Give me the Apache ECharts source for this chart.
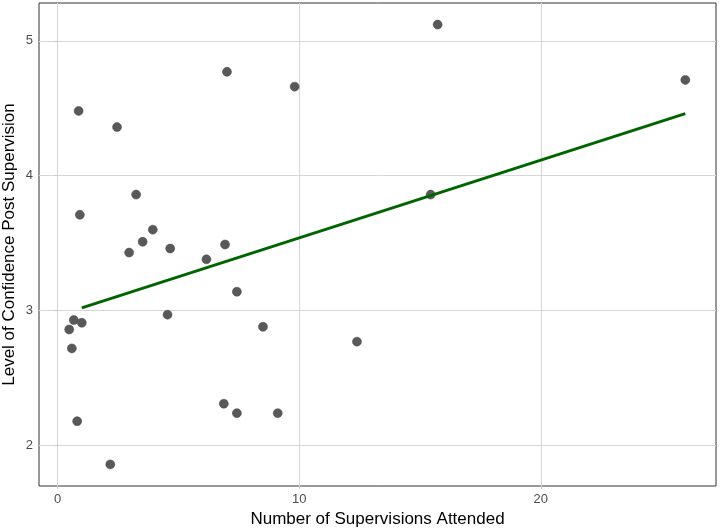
<!DOCTYPE html>
<html>
<head>
<meta charset="utf-8">
<script src="https://cdn.jsdelivr.net/npm/echarts@6/dist/echarts.min.js"></script>
<style>
  html, body { margin: 0; padding: 0; background: #fff; }
  #chart { width: 720px; height: 530px; }
</style>
</head>
<body>
<div id="chart"></div>
<script>
// supervisions attended (x) vs confidence after supervision (y)
const supervisions = [
  0.87, 7.01, 9.81, 2.46, 3.25, 0.92, 3.94, 3.52, 2.96, 4.66, 6.93, 6.16,
  7.42, 4.55, 0.67, 1.00, 0.48, 8.50, 0.59, 12.39, 6.88, 7.42, 9.11, 0.81,
  2.18, 15.73, 25.98, 15.44
]
const confidence = [
  4.48, 4.77, 4.66, 4.36, 3.86, 3.71, 3.60, 3.51, 3.43, 3.46, 3.49, 3.38,
  3.14, 2.97, 2.93, 2.91, 2.86, 2.88, 2.72, 2.77, 2.31, 2.24, 2.24, 2.18,
  1.86, 5.12, 4.71, 3.86
]
// fitted line, end points
const fitX = [1.0, 25.98]
const fitY = [3.02, 4.46]

const xTicks = [0, 10, 20]
const yTicks = [2, 3, 4, 5]

const chart = echarts.init(document.getElementById('chart'))
chart.setOption({
  animation: false,
  grid: {
    left: 39, right: 4, top: 3, bottom: 44,
    outerBoundsMode: 'none',
    containLabel: false,
    show: true,
    borderColor: '#333333',
    borderWidth: 1,
    backgroundColor: '#fff'
  },
  xAxis: {
    type: 'value',
    min: -0.77,
    max: 27.25,
    name: 'Number of Supervisions Attended',
    nameLocation: 'middle',
    nameGap: 24,
    nameTextStyle: { color: '#000', fontSize: 17, fontFamily: 'Liberation Sans' },
    axisLine: { show: false },
    axisTick: { show: true, length: 3, customValues: xTicks, lineStyle: { color: '#c8c8c8' } },
    axisLabel: {
      customValues: xTicks,
      color: '#4d4d4d', fontSize: 13, fontFamily: 'Liberation Sans', margin: 7
    },
    splitLine: { show: true, lineStyle: { color: '#d6d6d6', width: 1 } }
  },
  yAxis: {
    type: 'value',
    min: 1.70,
    max: 5.28,
    name: 'Level of Confidence Post Supervision',
    nameLocation: 'middle',
    nameGap: 21,
    nameMoveOverlap: false,
    nameTextStyle: { color: '#000', fontSize: 17, fontFamily: 'Liberation Sans' },
    axisLine: { show: false },
    axisTick: { show: true, length: 3, customValues: yTicks, lineStyle: { color: '#c8c8c8' } },
    axisLabel: {
      customValues: yTicks,
      color: '#4d4d4d', fontSize: 13, fontFamily: 'Liberation Sans', margin: 6
    },
    splitLine: { show: true, lineStyle: { color: '#d6d6d6', width: 1 } }
  },
  series: [
    {
      type: 'scatter',
      symbolSize: 9,
      itemStyle: { color: '#595959', opacity: 1, borderColor: '#444', borderWidth: 0.5 },
      data: supervisions.map((x, i) => [x, confidence[i]]),
      z: 2
    },
    {
      type: 'line',
      symbol: 'none',
      lineStyle: { color: '#006400', width: 3 },
      data: fitX.map((x, i) => [x, fitY[i]]),
      z: 3
    }
  ]
})
</script>
</body>
</html>
